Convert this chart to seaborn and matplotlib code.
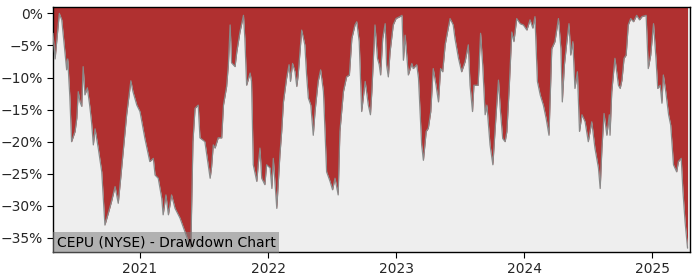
import matplotlib
matplotlib.use("Agg")
import matplotlib.pyplot as plt
import matplotlib.dates as mdates
from matplotlib.ticker import FuncFormatter
import seaborn as sns
import pandas as pd

ticker_label = "CEPU (NYSE) - Drawdown Chart"

dates = [
    "2020-04-28", "2020-05-04", "2020-05-16", "2020-05-23", "2020-06-06", "2020-06-09",
    "2020-06-15", "2020-06-20", "2020-06-30", "2020-07-05", "2020-07-09", "2020-07-14",
    "2020-07-19", "2020-07-23", "2020-07-28", "2020-08-04", "2020-08-11", "2020-08-16",
    "2020-08-21", "2020-08-26", "2020-09-04", "2020-09-14", "2020-09-23", "2020-10-03",
    "2020-10-12", "2020-10-22", "2020-10-31", "2020-11-07", "2020-11-24", "2020-12-06",
    "2020-12-12", "2020-12-23", "2021-01-01", "2021-01-15", "2021-01-29", "2021-02-08",
    "2021-02-13", "2021-02-22", "2021-03-04", "2021-03-08", "2021-03-16", "2021-03-23",
    "2021-04-01", "2021-04-11", "2021-04-25", "2021-05-09", "2021-05-26", "2021-06-01",
    "2021-06-07", "2021-06-16", "2021-06-21", "2021-07-05", "2021-07-20", "2021-07-24",
    "2021-07-29", "2021-08-03", "2021-08-12", "2021-08-22", "2021-08-27", "2021-09-05",
    "2021-09-10", "2021-09-15", "2021-09-19", "2021-09-29", "2021-10-04", "2021-10-13",
    "2021-10-23", "2021-10-27", "2021-11-01", "2021-11-11", "2021-11-15", "2021-11-20",
    "2021-11-30", "2021-12-04", "2021-12-09", "2021-12-14", "2021-12-23", "2021-12-28",
    "2022-01-07", "2022-01-12", "2022-01-16", "2022-01-26", "2022-02-04", "2022-02-09",
    "2022-02-14", "2022-02-23", "2022-03-02", "2022-03-06", "2022-03-12", "2022-03-19",
    "2022-03-24", "2022-03-28", "2022-04-07", "2022-04-12", "2022-04-16", "2022-04-21",
    "2022-04-26", "2022-05-03", "2022-05-10", "2022-05-15", "2022-05-24", "2022-05-31",
    "2022-06-08", "2022-06-17", "2022-06-27", "2022-07-04", "2022-07-11", "2022-07-20",
    "2022-07-25", "2022-08-04", "2022-08-13", "2022-08-21", "2022-08-28", "2022-09-06",
    "2022-09-11", "2022-09-18", "2022-09-25", "2022-10-05", "2022-10-14", "2022-10-20",
    "2022-10-24", "2022-11-02", "2022-11-09", "2022-11-14", "2022-11-18", "2022-11-24",
    "2022-12-01", "2022-12-05", "2022-12-10", "2022-12-15", "2022-12-24", "2023-01-01",
    "2023-01-12", "2023-01-18", "2023-01-22", "2023-01-27", "2023-02-05", "2023-02-15",
    "2023-02-19", "2023-03-01", "2023-03-06", "2023-03-10", "2023-03-15", "2023-03-20",
    "2023-03-28", "2023-04-03", "2023-04-10", "2023-04-17", "2023-04-25", "2023-05-02",
    "2023-05-08", "2023-05-14", "2023-05-21", "2023-05-27", "2023-06-04", "2023-06-13",
    "2023-06-18", "2023-06-28", "2023-07-07", "2023-07-17", "2023-07-26", "2023-07-31",
    "2023-08-07", "2023-08-11", "2023-08-23", "2023-08-30", "2023-09-05", "2023-09-12",
    "2023-09-17", "2023-09-26", "2023-10-04", "2023-10-10", "2023-10-15", "2023-10-20",
    "2023-10-25", "2023-11-01", "2023-11-08", "2023-11-13", "2023-11-20", "2023-11-27",
    "2023-12-03", "2023-12-11", "2023-12-21", "2023-12-30", "2024-01-09", "2024-01-18",
    "2024-01-26", "2024-02-01", "2024-02-08", "2024-02-16", "2024-02-25", "2024-03-04",
    "2024-03-12", "2024-03-20", "2024-03-29", "2024-04-08", "2024-04-15", "2024-04-19",
    "2024-04-25", "2024-05-02", "2024-05-08", "2024-05-13", "2024-05-19", "2024-05-25",
    "2024-06-01", "2024-06-07", "2024-06-14", "2024-06-23", "2024-07-02", "2024-07-12",
    "2024-07-21", "2024-07-31", "2024-08-05", "2024-08-10", "2024-08-16", "2024-08-24",
    "2024-08-31", "2024-09-02", "2024-09-07", "2024-09-16", "2024-09-26", "2024-10-01",
    "2024-10-06", "2024-10-12", "2024-10-18", "2024-10-24", "2024-10-31", "2024-11-08",
    "2024-11-17", "2024-11-25", "2024-12-02", "2024-12-14", "2024-12-20", "2024-12-27",
    "2025-01-04", "2025-01-11", "2025-01-16", "2025-01-23", "2025-01-28", "2025-02-01",
    "2025-02-08", "2025-02-16", "2025-02-22", "2025-03-02", "2025-03-11", "2025-03-16",
    "2025-03-24", "2025-03-29", "2025-04-04", "2025-04-11",
]

drawdown_pct = [
    -3.1, -7.1, 0.0, -1.0, -8.8, -7.1,
    -13.0, -20.0, -18.4, -16.3, -12.2, -13.8,
    -14.5, -8.3, -12.7, -11.6, -14.5, -17.0,
    -20.5, -18.0, -21.0, -24.7, -33.0, -31.1,
    -29.3, -27.0, -29.6, -25.7, -15.8, -10.5,
    -12.2, -14.3, -15.3, -19.5, -23.1, -22.6,
    -25.2, -25.7, -28.8, -31.4, -28.3, -31.4,
    -28.3, -30.4, -31.9, -34.0, -36.6, -20.0,
    -14.8, -14.3, -19.4, -20.0, -25.7, -24.0,
    -20.5, -21.0, -19.4, -19.4, -14.3, -11.4,
    -8.0, -1.8, -7.7, -8.3, -6.0, -2.9,
    -0.3, -3.9, -11.2, -9.3, -10.6, -23.6,
    -26.2, -23.6, -21.0, -25.7, -26.7, -23.6,
    -24.1, -27.3, -22.6, -30.4, -22.0, -18.4,
    -13.8, -10.1, -8.0, -10.6, -7.8, -9.1,
    -11.4, -9.6, -2.6, -3.9, -4.9, -9.6,
    -13.2, -14.3, -19.0, -15.3, -10.6, -8.8,
    -12.2, -24.7, -26.2, -27.5, -25.7, -28.3,
    -18.4, -12.2, -9.9, -9.6, -3.9, -1.8,
    -1.3, -4.4, -15.3, -10.6, -14.3, -15.8,
    -12.2, -1.8, -7.0, -8.0, -9.6, -3.9,
    -1.6, -8.0, -9.9, -6.0, -1.8, -0.8,
    -0.5, -0.3, -7.3, -3.4, -9.6, -7.8,
    -8.6, -8.0, -10.1, -14.8, -20.5, -22.9,
    -18.4, -17.9, -15.3, -8.6, -11.2, -13.8,
    -8.6, -9.1, -4.9, -3.1, -0.8, -1.8,
    -3.9, -7.0, -9.1, -7.5, -4.9, -11.2,
    -15.3, -11.2, -11.2, -3.1, -8.0, -15.8,
    -14.3, -20.5, -23.6, -18.4, -14.3, -10.4,
    -14.8, -19.5, -20.0, -18.4, -11.2, -2.9,
    -4.4, -0.8, -1.6, -1.8, -2.6, -1.0,
    -2.3, -0.5, -10.6, -12.7, -14.3, -16.4,
    -19.0, -5.5, -4.4, -0.8, -5.5, -13.8,
    -8.0, -4.4, -1.6, -6.5, -4.4, -11.7,
    -9.1, -18.4, -15.8, -16.9, -20.0, -16.9,
    -21.0, -24.1, -27.3, -21.0, -15.6, -19.0,
    -15.8, -19.0, -12.2, -7.0, -11.2, -11.7,
    -10.4, -7.0, -6.5, -1.8, -0.8, -1.3,
    -0.3, -1.0, -0.5, -0.3, -8.6, -6.5,
    -1.6, -7.0, -11.7, -11.2, -14.0, -9.6,
    -12.2, -15.8, -17.4, -23.6, -24.7, -23.1,
    -22.6, -27.8, -32.5, -36.6,
]

year_ticks = ["2021-01-01", "2022-01-01", "2023-01-01", "2024-01-01", "2025-01-01"]
y_ticks = [0, -5, -10, -15, -20, -25, -30, -35]

df = pd.DataFrame({"date": pd.to_datetime(dates), "drawdown": drawdown_pct})

sns.set_style("ticks")
plt.rcParams["font.family"] = ["DejaVu Sans"]

fig = plt.figure(figsize=(7, 2.8), dpi=100)
ax = fig.add_axes([0.0757, 0.1, 0.91, 0.875])
ax.set_facecolor("#EEEEEE")

y_top = 1.0
y_bottom = -37.2
ax.fill_between(df["date"], df["drawdown"], y_top, color="#B03030", linewidth=0, zorder=2)
sns.lineplot(data=df, x="date", y="drawdown", ax=ax, color="#8A8A8A", linewidth=0.9, zorder=3)

ax.set_xlim(pd.Timestamp("2020-04-28"), pd.Timestamp("2025-04-18"))
ax.set_ylim(y_bottom, y_top)
ax.set_yticks(y_ticks)
ax.yaxis.set_major_formatter(FuncFormatter(lambda v, p: f"{v:.0f}%".replace("-", "\u2212")))
ax.set_xticks(pd.to_datetime(year_ticks))
ax.xaxis.set_major_formatter(mdates.DateFormatter("%Y"))
ax.set_xlabel("")
ax.set_ylabel("")
ax.tick_params(labelsize=10, length=4, width=0.8, color="black")
for s in ax.spines.values():
    s.set_visible(True)
    s.set_color("black")
    s.set_linewidth(1.0)

ax.text(0.006, 0.012, ticker_label, transform=ax.transAxes, fontsize=10,
        ha="left", va="bottom", color="black", zorder=5,
        bbox=dict(facecolor="#808080", alpha=0.55, edgecolor="none", pad=2.5))

fig.savefig("out.png", dpi=100)
